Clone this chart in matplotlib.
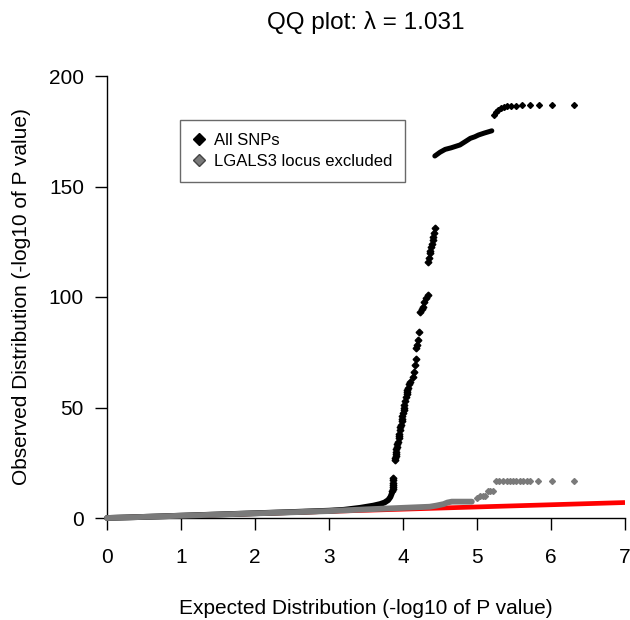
import matplotlib
matplotlib.use("Agg")
import matplotlib.pyplot as plt
from matplotlib.lines import Line2D

plt.rcParams['font.family'] = ['Liberation Sans', 'DejaVu Sans']

# All SNPs: dense lower part (drawn as a thick band of points)
all_exp_low = [0.0, 0.5, 1.0, 1.5, 2.0, 2.5, 3.0, 3.2, 3.42, 3.51, 3.6, 3.69, 3.75, 3.80, 3.83, 3.85]
all_obs_low = [0.0, 0.5, 1.05, 1.6, 2.15, 2.7, 3.3, 3.7, 4.6, 5.1, 5.6, 6.3, 7.0, 8.1, 9.5, 11.2]
# All SNPs: steep climb (separate points)
all_exp_mid = [3.855, 3.86, 3.86, 3.865, 3.87, 3.87, 3.87,
               3.89, 3.895, 3.90, 3.905, 3.91, 3.91, 3.915, 3.92, 3.93, 3.94, 3.945, 3.95,
               3.96, 3.965, 3.97, 3.98, 3.985, 3.99, 4.00,
               4.01, 4.015, 4.02, 4.03, 4.04, 4.05, 4.055, 4.06, 4.07, 4.08, 4.09,
               4.14, 4.15, 4.16, 4.17, 4.18, 4.19, 4.20, 4.21,
               4.23, 4.25, 4.27, 4.28, 4.31, 4.34,
               4.34, 4.35, 4.36, 4.37, 4.38, 4.39, 4.40, 4.41, 4.42, 4.43]
all_obs_mid = [12.0, 13.0, 14.0, 15.0, 16.0, 17.0, 18.0,
               26.2, 27.0, 28.0, 29.0, 30.0, 31.0, 32.3, 33.5, 34.5, 36.0, 37.0, 38.0,
               39.8, 41.0, 42.0, 44.0, 45.0, 46.0, 47.4,
               49.0, 50.0, 51.0, 53.0, 54.9, 56.0, 57.0, 58.0, 59.0, 60.5, 61.7,
               63.9, 66.0, 69.2, 72.0, 76.8, 78.5, 80.5, 84.3,
               93.3, 94.5, 95.5, 97.9, 99.5, 100.9,
               116.0, 117.5, 119.8, 121.0, 122.5, 124.0, 125.8, 127.0, 129.0, 131.1]
# All SNPs: upper curve
all_exp_top = [4.43, 4.50, 4.57, 4.65, 4.77, 4.85, 4.91, 4.97, 5.02, 5.10, 5.20]
all_obs_top = [163.8, 165.5, 166.8, 167.5, 168.8, 170.5, 171.8, 172.5, 173.3, 174.2, 175.2]
# All SNPs: top ranks
all_exp_tail = [5.23, 5.26, 5.29, 5.33, 5.36, 5.41, 5.46, 5.53, 5.61, 5.71, 5.84, 6.01, 6.31]
all_obs_tail = [182.4, 183.5, 184.6, 185.3, 185.8, 186.2, 186.5, 186.6, 186.8, 186.9, 186.9, 186.9, 186.9]

# LGALS3 locus excluded
ex_exp_low = [0.0, 0.5, 1.0, 1.5, 2.0, 2.5, 3.0, 3.5, 4.0, 4.36, 4.45, 4.55, 4.60, 4.66, 4.80, 4.93]
ex_obs_low = [0.0, 0.5, 1.03, 1.55, 2.1, 2.6, 3.15, 3.9, 4.6, 5.1, 5.6, 6.3, 7.0, 7.4, 7.4, 7.4]
ex_exp_tail = [5.00, 5.04, 5.08, 5.11, 5.15, 5.18, 5.22,
               5.26, 5.30, 5.35, 5.40, 5.44, 5.49, 5.53, 5.58, 5.62, 5.67,
               5.71, 5.83, 6.01, 6.31]
ex_obs_tail = [8.9, 10.0, 10.0, 10.0, 12.4, 12.4, 12.4,
               16.9, 16.9, 16.9, 16.9, 16.9, 16.9, 16.9, 16.9, 16.9, 16.9,
               16.9, 16.9, 16.9, 16.9]

null_x = [0, 7]
null_y = [0, 7]

gray = '#7a7a7a'

fig = plt.figure(figsize=(6.3, 6.2), dpi=100)
ax = fig.add_axes([107/630, 102/620, 518/630, 442/620])

ax.plot(null_x, null_y, color='red', lw=3.4, zorder=2, solid_capstyle='butt')

ax.plot(all_exp_low, all_obs_low, color='black', lw=4.2, zorder=3, clip_on=False,
        solid_capstyle='round')
ax.plot(all_exp_mid, all_obs_mid, ls='none', color='black', marker='D', ms=3.4, zorder=3)
ax.plot(all_exp_top, all_obs_top, color='black', lw=3.6, zorder=3, solid_capstyle='round')
ax.plot(all_exp_tail, all_obs_tail, ls='none', color='black', marker='D', ms=3, zorder=3)

ax.plot(ex_exp_low, ex_obs_low, color=gray, lw=4.2, zorder=4, clip_on=False,
        solid_capstyle='round')
ax.plot(ex_exp_tail, ex_obs_tail, ls='none', color=gray, marker='D', ms=3, zorder=4)

ax.set_xlim(0, 7)
ax.set_ylim(0, 200)
ax.set_xticks(range(0, 8))
ax.set_yticks([0, 50, 100, 150, 200])
for s in ['top', 'right']:
    ax.spines[s].set_visible(False)
for s in ['left', 'bottom']:
    ax.spines[s].set_linewidth(1.0)
ax.tick_params(axis='both', direction='out', length=8.6, width=1.0, labelsize=15)
ax.tick_params(axis='x', pad=13)
ax.tick_params(axis='y', pad=8)

fig.text(366/630, 1 - 22/620, 'QQ plot: λ = 1.031', ha='center', va='center', fontsize=17.5)
fig.text(366/630, 1 - 608/620, 'Expected Distribution (-log10 of P value)', ha='center', va='center', fontsize=15)
fig.text(22/630, 1 - 297/620, 'Observed Distribution (-log10 of P value)', ha='center', va='center',
         rotation=90, fontsize=15)

handles = [Line2D([], [], ls='none', marker='D', color='black', ms=6),
           Line2D([], [], ls='none', marker='D', markerfacecolor=gray, markeredgecolor='#444444', ms=6)]
leg = ax.legend(handles, ['All SNPs', 'LGALS3 locus excluded'], loc='upper left',
                bbox_to_anchor=(180/630, 1 - 120/620), bbox_transform=fig.transFigure,
                fancybox=False, edgecolor='#444444', fontsize=12, handlelength=0.8,
                handletextpad=0.5, borderpad=0.75, labelspacing=0.4, borderaxespad=0)
leg.get_frame().set_linewidth(1.0)

fig.savefig('out.png', dpi=100)
